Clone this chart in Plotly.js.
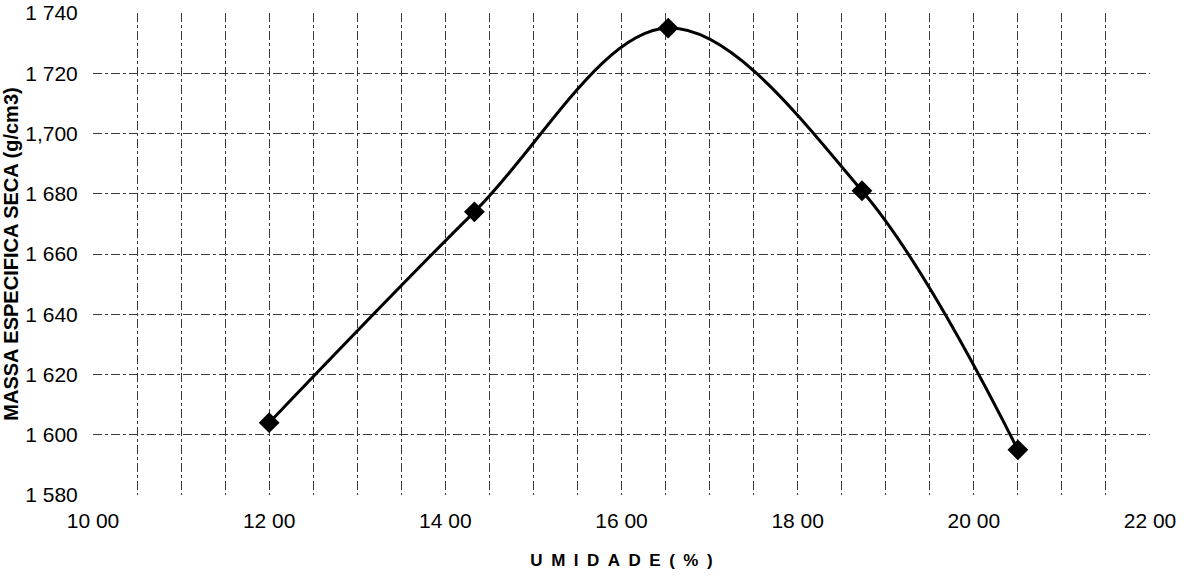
<!DOCTYPE html>
<html>
<head>
<meta charset="utf-8">
<script src="https://cdn.plot.ly/plotly-3.0.1.min.js"></script>
<style>html,body{margin:0;padding:0;background:#fff;}#chart{width:1188px;height:585px;}</style>
</head>
<body>
<div id="chart"></div>
<script>
const umidade = [12.00, 14.33, 16.53, 18.73, 20.50];
const massaEspecifica = [1604, 1674, 1735, 1681, 1595];
const xTickVals = [10, 12, 14, 16, 18, 20, 22];
const xTickText = ["10 00", "12 00", "14 00", "16 00", "18 00", "20 00", "22 00"];
const yTickVals = [1580, 1600, 1620, 1640, 1660, 1680, 1700, 1720, 1740];
const yTickText = ["1 580", "1 600", "1 620", "1 640", "1 660", "1 680", "1,700", "1 720", "1 740"];
const xTitle = ["U", "M", "I", "D", "A", "D", "E", "(", "%", ")"].join("\u2002");

const gridStyle = {gridcolor: '#3a3a3a', griddash: 'dashdot', gridwidth: 1};

const trace = {
  x: umidade,
  y: massaEspecifica,
  mode: 'lines+markers',
  type: 'scatter',
  line: {color: '#000', width: 3, shape: 'spline', smoothing: 1},
  marker: {symbol: 'diamond', size: 16, color: '#000'},
  hoverinfo: 'none'
};

const layout = {
  width: 1188, height: 585,
  margin: {l: 93, r: 38, t: 13, b: 90},
  paper_bgcolor: '#fff', plot_bgcolor: '#fff',
  showlegend: false,
  font: {family: 'Liberation Sans, Arial, sans-serif', color: '#000'},
  xaxis: Object.assign({
    range: [10, 22], tickvals: xTickVals, ticktext: xTickText,
    ticks: 'outside', ticklen: 7, tickcolor: 'rgba(0,0,0,0)',
    tickfont: {size: 21},
    showline: false, zeroline: false,
    showgrid: true,
    minor: Object.assign({dtick: 0.5, tick0: 10, showgrid: true}, gridStyle),
    title: {text: xTitle, font: {size: 17, weight: 'bold'}, standoff: 22}
  }, gridStyle),
  yaxis: Object.assign({
    range: [1580, 1740], tickvals: yTickVals, ticktext: yTickText,
    ticks: 'outside', ticklen: 10, tickcolor: 'rgba(0,0,0,0)',
    tickfont: {size: 21},
    showline: false, zeroline: false,
    showgrid: true,
    title: {text: 'MASSA ESPECIFICA SECA (g/cm3)', font: {size: 20, weight: 'bold'}, standoff: 2}
  }, gridStyle)
};

Plotly.newPlot('chart', [trace], layout, {staticPlot: true, displayModeBar: false});
</script>
</body>
</html>
